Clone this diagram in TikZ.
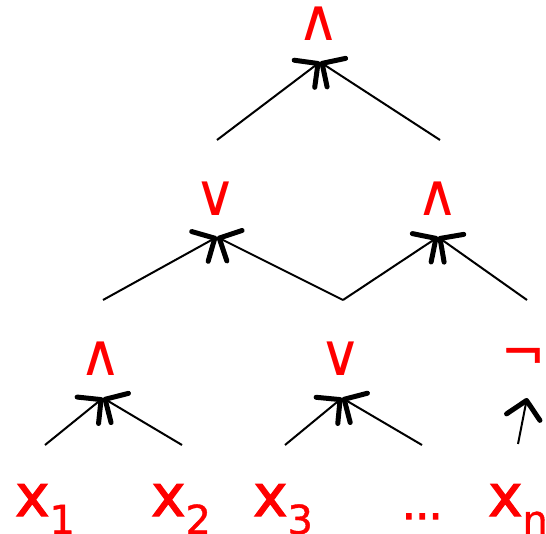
\documentclass[tikz,border=0pt]{standalone}
\usepackage{fontspec}
\setmainfont{DejaVu Sans}
\newfontfamily\xfont[FakeBold=2]{DejaVu Sans}
\newfontfamily\subfont[FakeBold=1]{DejaVu Sans}
\newfontfamily\dotfont[FakeBold=3]{DejaVu Sans}
\usetikzlibrary{arrows.meta}
\definecolor{lbl}{RGB}{255,0,0}
\tikzset{
  op/.style={text=lbl, inner sep=0pt, font=\fontsize{58}{58}\selectfont},
  var/.style={text=lbl, inner sep=0pt, anchor=base west, font=\xfont\fontsize{58}{58}\selectfont},
  edge/.style={line width=2pt, -{Straight Barb[length=17pt, width=34pt, line width=5pt, round]}},
  plain/.style={line width=2pt}
}
\newcommand{\sub}[1]{\raisebox{-18pt}{\subfont\fontsize{40}{40}\selectfont #1}}
\begin{document}
\begin{tikzpicture}[x=1pt,y=-1pt]
\useasboundingbox (0,0) rectangle (546,534);
% labels
\node[op] (top) at (319,24) {∧};
\node[op] (or1) at (216,199) {∨};
\node[op] (and2) at (438,199) {∧};
\node[op] (and3) at (101,359) {∧};
\node[op] (or3) at (341,359) {∨};
\node[op, font=\subfont\fontsize{52}{52}\selectfont] (neg) at (523,359) {¬};
\node[var] (x1) at (15,516) {x\sub{1}};
\node[var] (x2) at (151,516) {x\sub{2}};
\node[var] (x3) at (253,516) {x\sub{3}};
\node[var] (dots) at (402,519) {\dotfont\fontsize{42}{42}\selectfont ...};
\node[var] (xn) at (488,516) {x\sub{n}};
% tips
\coordinate (ttop) at (320,62);
\coordinate (tor1) at (217,237);
\coordinate (tand2) at (438,237);
\coordinate (tand3) at (103,398);
\coordinate (tor3) at (342,398);
\coordinate (tneg) at (527,398);
% tails
\coordinate (a1) at (217,140);
\coordinate (a2) at (440,140);
\coordinate (b1) at (103,300);
\coordinate (b2) at (343,300);
\coordinate (b3) at (527,300);
\coordinate (c1) at (45,445);
\coordinate (c2) at (182,445);
\coordinate (c3) at (285,445);
\coordinate (c4) at (422,445);
\coordinate (c5) at (518,444);
% connectors
\draw[edge] (a1) -- (ttop);
\draw[edge] (a2) -- (ttop);
\draw[edge] (b1) -- (tor1);
\draw[edge] (b2) -- (tor1);
\draw[edge] (b2) -- (tand2);
\draw[edge] (b3) -- (tand2);
\draw[edge] (c1) -- (tand3);
\draw[edge] (c2) -- (tand3);
\draw[edge] (c3) -- (tor3);
\draw[edge] (c4) -- (tor3);
\draw[edge] (c5) -- (tneg);
\end{tikzpicture}
\end{document}
